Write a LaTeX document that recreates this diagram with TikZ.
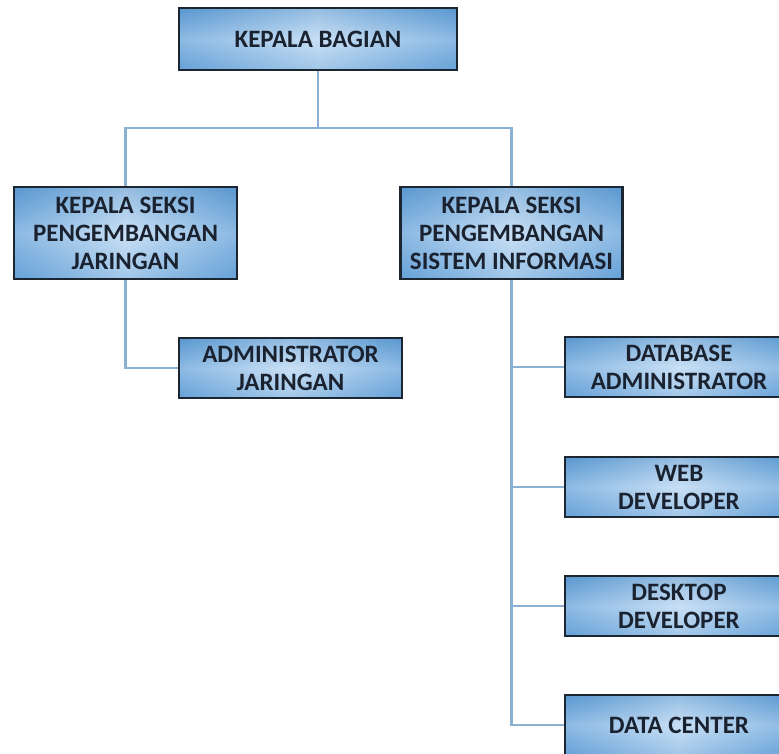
\documentclass[tikz,border=0pt]{standalone}
\usepackage{fontspec}
\setmainfont{Carlito}
\usetikzlibrary{backgrounds}
\definecolor{boxedge}{HTML}{5B9BD5}
\definecolor{boxlight}{HTML}{C9E0F5}
\definecolor{boxframe}{HTML}{1C2631}
\definecolor{linkblue}{HTML}{8AB1D2}
\definecolor{labelink}{HTML}{1A2230}
\tikzset{
  orgbox/.style={
    draw=boxframe, line width=2.2pt,
    top color=boxedge!95!black, bottom color=boxedge!85, middle color=boxlight,
    path picture={
      \shade[left color=boxedge, right color=boxedge, middle color=boxlight, fill opacity=0.55]
        (path picture bounding box.south west) rectangle (path picture bounding box.north east);
    },
    text=labelink, font=\bfseries\fontsize{25}{28}\selectfont,
    align=center, inner sep=0pt
  },
  link/.style={draw=linkblue, line width=2.2pt}
}
\begin{document}
\begin{tikzpicture}[x=1pt,y=-1pt]
\useasboundingbox (0,0) rectangle (779,753);
\clip (0,0) rectangle (779,753);

\coordinate (bus) at (318,128);

% boxes
\node[orgbox, minimum width=278pt, minimum height=62pt] (kb) at (318,39) {KEPALA BAGIAN};
\node[orgbox, minimum width=223pt, minimum height=92pt] (ksj) at (125.5,233)
  {KEPALA SEKSI\\PENGEMBANGAN\\JARINGAN};
\node[orgbox, minimum width=222pt, minimum height=92pt] (kssi) at (511.5,233)
  {KEPALA SEKSI\\PENGEMBANGAN\\SISTEM INFORMASI};
\node[orgbox, minimum width=223pt, minimum height=60pt] (adm) at (290.5,368)
  {ADMINISTRATOR\\JARINGAN};
\node[orgbox, minimum width=228pt, minimum height=60pt] (dba) at (679,367)
  {DATABASE\\ADMINISTRATOR};
\node[orgbox, minimum width=228pt, minimum height=60pt] (web) at (679,487)
  {WEB\\DEVELOPER};
\node[orgbox, minimum width=228pt, minimum height=60pt] (desk) at (679,606)
  {DESKTOP\\DEVELOPER};
\node[orgbox, minimum width=228pt, minimum height=60pt] (dc) at (679,725)
  {DATA CENTER};

% connectors, kept behind the boxes
\begin{scope}[on background layer]
\draw[link] (kb.south) -- (bus);
\draw[link] (ksj.north) |- (bus) -| (kssi.north);
\draw[link] (ksj.south) |- (adm.west);
\draw[link] (kssi.south) |- (dc.west);
\draw[link] (kssi.south |- dba.west) -- (dba.west);
\draw[link] (kssi.south |- web.west) -- (web.west);
\draw[link] (kssi.south |- desk.west) -- (desk.west);
\end{scope}
\end{tikzpicture}
\end{document}
